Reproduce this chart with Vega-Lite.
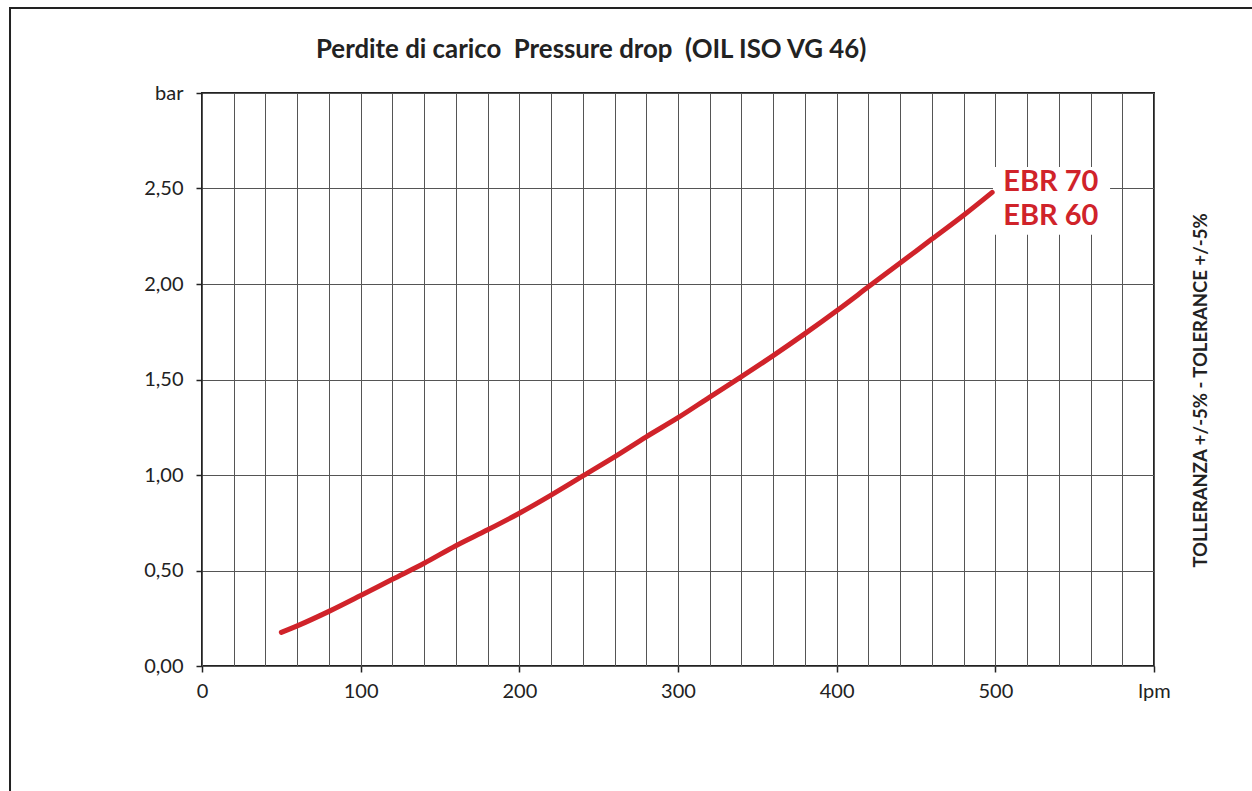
{
  "$schema": "https://vega.github.io/schema/vega-lite/v6.json",
  "autosize": "none",
  "width": 952,
  "height": 573,
  "padding": {"left": 202, "top": 93, "right": 98, "bottom": 125},
  "background": "white",
  "config": {
    "view": {"stroke": "#222222", "strokeWidth": 2},
    "font": "Lato"
  },
  "title": {
    "text": "Perdite di carico\u00a0\u00a0Pressure drop\u00a0\u00a0(OIL ISO VG 46)",
    "anchor": "start",
    "frame": "group",
    "dx": 114,
    "offset": -77,
    "baseline": "alphabetic",
    "font": "Lato",
    "fontSize": 25.8,
    "fontWeight": "bold",
    "color": "#222222"
  },
  "resolve": {"axis": {"x": "independent", "y": "independent"}},
  "layer": [
    {
      "data": {"values": [{}]},
      "mark": {"type": "rect", "fill": "white", "stroke": null},
      "encoding": {
        "x": {"datum": 498.5, "type": "quantitative", "scale": {"domain": [0, 600], "nice": false, "zero": false}, "axis": null},
        "x2": {"datum": 572.3},
        "y": {"datum": 2.612, "type": "quantitative", "scale": {"domain": [0, 3], "nice": false, "zero": false}, "axis": null},
        "y2": {"datum": 2.258}
      }
    },
    {
      "data": {
        "values": [
          {"lpm": 50, "bar": 0.176},
          {"lpm": 60, "bar": 0.21},
          {"lpm": 80, "bar": 0.286},
          {"lpm": 100, "bar": 0.369},
          {"lpm": 120, "bar": 0.454},
          {"lpm": 140, "bar": 0.538},
          {"lpm": 160, "bar": 0.63},
          {"lpm": 180, "bar": 0.713},
          {"lpm": 200, "bar": 0.8},
          {"lpm": 220, "bar": 0.895},
          {"lpm": 240, "bar": 0.995},
          {"lpm": 260, "bar": 1.095},
          {"lpm": 280, "bar": 1.2},
          {"lpm": 300, "bar": 1.3},
          {"lpm": 320, "bar": 1.408},
          {"lpm": 340, "bar": 1.515},
          {"lpm": 360, "bar": 1.625},
          {"lpm": 380, "bar": 1.74},
          {"lpm": 400, "bar": 1.86},
          {"lpm": 420, "bar": 1.985},
          {"lpm": 440, "bar": 2.11},
          {"lpm": 460, "bar": 2.235},
          {"lpm": 480, "bar": 2.36},
          {"lpm": 498, "bar": 2.48}
        ]
      },
      "mark": {"type": "line", "color": "#d0232a", "strokeWidth": 5, "strokeCap": "round", "interpolate": "monotone"},
      "encoding": {
        "x": {
          "field": "lpm", "type": "quantitative",
          "scale": {"domain": [0, 600], "nice": false, "zero": false},
          "axis": {
            "orient": "bottom",
            "values": [0,20,40,60,80,100,120,140,160,180,200,220,240,260,280,300,320,340,360,380,400,420,440,460,480,500,520,540,560,580,600],
            "grid": true, "gridColor": "#555555", "gridWidth": 1,
            "domain": false,
            "tickSize": 6, "tickColor": "#222222", "tickWidth": 1.5,
            "tickOpacity": {"condition": {"test": "datum.value % 100 === 0", "value": 1}, "value": 0},
            "labelExpr": "datum.value % 100 === 0 ? (datum.value === 600 ? 'lpm' : datum.label) : ''",
            "labelFont": "Lato", "labelFontSize": 20, "labelColor": "#222222",
            "labelPadding": 9, "labelFlush": false, "labelOverlap": false,
            "title": null
          }
        },
        "y": {
          "field": "bar", "type": "quantitative",
          "scale": {"domain": [0, 3], "nice": false, "zero": false},
          "axis": {
            "orient": "left",
            "values": [0, 0.5, 1, 1.5, 2, 2.5, 3],
            "grid": true, "gridColor": "#555555", "gridWidth": 1,
            "domain": false,
            "tickSize": 6, "tickColor": "#222222", "tickWidth": 1.5,
            "labelExpr": "datum.value === 3 ? 'bar' : replace(format(datum.value, '.2f'), '.', ',')",
            "labelFont": "Lato", "labelFontSize": 20, "labelColor": "#222222",
            "labelPadding": 13, "labelFlush": false, "labelOverlap": false,
            "title": null
          }
        }
      }
    },
    {
      "data": {
        "values": [
          {"label": "EBR 70", "lpm": 505, "bar": 2.536},
          {"label": "EBR 60", "lpm": 505, "bar": 2.354}
        ]
      },
      "mark": {"type": "text", "align": "left", "baseline": "middle", "font": "Lato", "fontWeight": "bold", "fontSize": 29, "color": "#d0232a"},
      "encoding": {
        "x": {"field": "lpm", "type": "quantitative", "scale": {"domain": [0, 600], "nice": false, "zero": false}, "axis": null},
        "y": {"field": "bar", "type": "quantitative", "scale": {"domain": [0, 3], "nice": false, "zero": false}, "axis": null},
        "text": {"field": "label"}
      }
    },
    {
      "data": {"values": [{}]},
      "mark": {"type": "rect", "fillOpacity": 0, "stroke": "#222222", "strokeWidth": 2},
      "encoding": {
        "x": {"datum": -121, "type": "quantitative", "scale": {"domain": [0, 600], "nice": false, "zero": false}, "axis": null},
        "x2": {"datum": 800},
        "y": {"datum": 3.445, "type": "quantitative", "scale": {"domain": [0, 3], "nice": false, "zero": false}, "axis": null},
        "y2": {"datum": -2}
      }
    },
    {
      "data": {"values": [{}]},
      "mark": {"type": "text", "text": ""},
      "encoding": {
        "x": {"datum": 0, "type": "quantitative", "scale": {"domain": [0, 600], "nice": false, "zero": false}, "axis": null},
        "y": {
          "datum": 0, "type": "quantitative",
          "scale": {"domain": [0, 3], "nice": false, "zero": false},
          "axis": {
            "orient": "right",
            "title": "TOLLERANZA +/-5% - TOLERANCE +/-5%",
            "labels": false, "ticks": false, "domain": false, "grid": false,
            "titleAngle": 270, "titleX": 46, "titleY": 297,
            "titleAlign": "center", "titleBaseline": "middle",
            "titleFont": "Lato", "titleFontWeight": "bold", "titleFontSize": 18.5, "titleColor": "#222222"
          }
        }
      }
    }
  ]
}
